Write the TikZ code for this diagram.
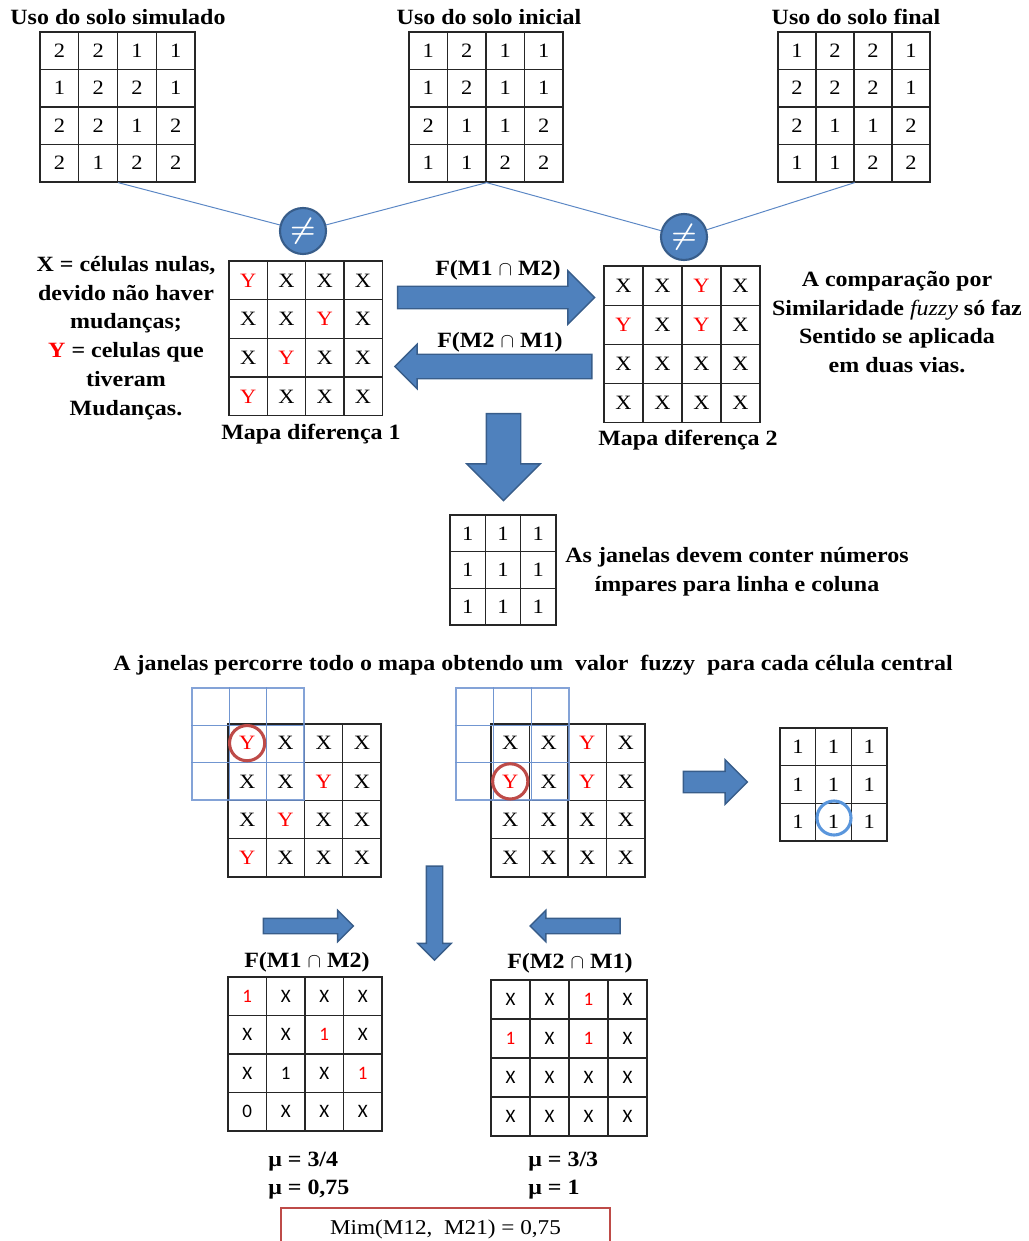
\documentclass[tikz,border=0pt]{standalone}
\usepackage{fontspec}
\setmainfont[FakeStretch=1.1]{Liberation Serif}
\newfontfamily\cellsans{Carlito}
\usetikzlibrary{shapes.arrows,positioning}
\definecolor{arrowblue}{HTML}{4F81BD}
\definecolor{arrowedge}{HTML}{385D8A}
\definecolor{linkblue}{HTML}{5B87C5}
\definecolor{winblue}{HTML}{6E93D0}
\definecolor{ringred}{HTML}{BE4B48}
\definecolor{ringblue}{HTML}{5A96DC}
\newcommand{\Yr}{\textcolor{red}{Y}}
\newcommand{\Ur}{\textcolor{red}{1}}

\begin{document}
\begin{tikzpicture}[x=0.025cm,y=-0.025cm,
  cell/.style={draw=black!85,line width=0.9pt,inner sep=0pt,minimum width=0.96cm,minimum height=0.96cm,font=\fontsize{14.5}{14.5}\selectfont},
  scell/.style={cell,font=\cellsans\fontsize{13.5}{13.5}\selectfont},
  wcell/.style={draw=winblue,draw opacity=0.85,line width=0.9pt,inner sep=0pt,minimum width=0.932cm,minimum height=0.932cm},
  lbl/.style={font=\fontsize{15.5}{20.5}\selectfont\bfseries,align=center,inner sep=0pt},
  neq/.style={circle,fill=arrowblue,draw=arrowedge,line width=1.5pt,minimum size=1.15cm,inner sep=0pt,text=white,font=\huge\boldmath},
  ring/.style={circle,draw=ringred,line width=2.2pt,minimum size=0.88cm,inner sep=0pt},
  link/.style={draw=linkblue,line width=0.7pt},
  bigarrow/.style 2 args={single arrow,fill=arrowblue,draw=arrowedge,line width=1pt,inner xsep=0pt,inner ysep=#1,single arrow head extend=#2},
  downarrow/.style 2 args={bigarrow={0pt}{#2},inner xsep=#1,shape border rotate=270}]
\useasboundingbox (0,0) rectangle (1029,1241);

% mapas de uso do solo
\node[lbl] (tsim) at (118,17) {Uso do solo simulado};
\foreach \row [count=\r] in {{2,2,1,1},{1,2,2,1},{2,2,1,2},{2,1,2,2}}
  \foreach \v [count=\c] in \row
    \node[cell,minimum width=0.969cm,minimum height=0.9375cm] (sim-\r-\c) at ({40+(\c-0.5)*38.75},{32+(\r-0.5)*37.5}) {\v};
\node[lbl] (tini) at (489,17) {Uso do solo inicial};
\foreach \row [count=\r] in {{1,2,1,1},{1,2,1,1},{2,1,1,2},{1,1,2,2}}
  \foreach \v [count=\c] in \row
    \node[cell,minimum width=0.9625cm,minimum height=0.9375cm] (ini-\r-\c) at ({409+(\c-0.5)*38.5},{32+(\r-0.5)*37.5}) {\v};
\node[lbl] (tfin) at (856,17) {Uso do solo final};
\foreach \row [count=\r] in {{1,2,2,1},{2,2,2,1},{2,1,1,2},{1,1,2,2}}
  \foreach \v [count=\c] in \row
    \node[cell,minimum width=0.95cm,minimum height=0.9375cm] (fin-\r-\c) at ({778+(\c-0.5)*38},{32+(\r-0.5)*37.5}) {\v};

\node[neq] (neq1) at (303,231) {$\neq$};
\node[neq] (neq2) at (684,237) {$\neq$};
\path[link] (sim-4-2.south east) -- (neq1)
            (ini-4-2.south east) -- (neq1)
            (ini-4-2.south east) -- (neq2)
            (fin-4-2.south east) -- (neq2);

% mapas diferenca
\foreach \row [count=\r] in {{\Yr,X,X,X},{X,X,\Yr,X},{X,\Yr,X,X},{\Yr,X,X,X}}
  \foreach \v [count=\c] in \row
    \node[cell,minimum width=0.9575cm,minimum height=0.9675cm] (dif1-\r-\c) at ({229+(\c-0.5)*38.3},{261+(\r-0.5)*38.7}) {\v};
\node[lbl] (tdif1) at (311,434) {Mapa diferença 1};
\foreach \row [count=\r] in {{X,X,\Yr,X},{\Yr,X,\Yr,X},{X,X,X,X},{X,X,X,X}}
  \foreach \v [count=\c] in \row
    \node[cell,minimum width=0.975cm,minimum height=0.98cm] (dif2-\r-\c) at ({604+(\c-0.5)*39},{266+(\r-0.5)*39.2}) {\v};
\node[lbl] (tdif2) at (688,440) {Mapa diferença 2};

\node[lbl] (legx) at (126,338) {X = células nulas,\\devido não haver\\mudanças;\\\textcolor{red}{Y} = celulas que\\tiveram\\Mudanças.};
\node[lbl] (legf) at (897,322) {A comparação por\\Similaridade \textmd{\textit{fuzzy}} só faz\\Sentido se aplicada\\em duas vias.};

\node[bigarrow={0.2625cm}{0.3875cm},minimum height=4.925cm] (a12) at (490.5,297.5) {};
\node[lbl] (f12) at (498,270) {F(M1 $\cap$ M2)};
\node[bigarrow={0.2875cm}{0.25cm},minimum height=4.925cm,shape border rotate=180] (a21) at (499.5,366.5) {};
\node[lbl] (f21) at (500,342) {F(M2 $\cap$ M1)};
\node[downarrow={0.4125cm}{0.4875cm},minimum height=2.175cm] (adown) at (503.5,448.5) {};

% janela
\foreach \r in {1,2,3}
  \foreach \c in {1,2,3}
    \node[cell,minimum width=0.8825cm,minimum height=0.9175cm] (jan-\r-\c) at ({450+(\c-0.5)*35.3},{515+(\r-0.5)*36.7}) {1};
\node[lbl] (tjan) at (737,572) {As janelas devem conter números\\ímpares para linha e coluna};

\node[lbl] (tperc) at (533,665) {A janelas percorre todo o mapa obtendo um\ \ valor\ \ fuzzy\ \ para cada célula central};

% janela percorrendo os mapas
\foreach \row [count=\r] in {{\Yr,X,X,X},{X,X,\Yr,X},{X,\Yr,X,X},{\Yr,X,X,X}}
  \foreach \v [count=\c] in \row
    \node[cell,minimum width=0.956cm,minimum height=0.956cm] (wa-\r-\c) at ({228+(\c-0.5)*38.25},{724+(\r-0.5)*38.25}) {\v};
\foreach \r in {1,2,3}
  \foreach \c in {1,2,3}
    \node[wcell] (wina-\r-\c) at ({192+(\c-0.5)*37.3},{688+(\r-0.5)*37.3}) {};
\node[ring] (ringa) at (wa-1-1) {};

\foreach \row [count=\r] in {{X,X,\Yr,X},{\Yr,X,\Yr,X},{X,X,X,X},{X,X,X,X}}
  \foreach \v [count=\c] in \row
    \node[cell,minimum width=0.9625cm,minimum height=0.956cm] (wb-\r-\c) at ({491+(\c-0.5)*38.5},{724+(\r-0.5)*38.25}) {\v};
\foreach \r in {1,2,3}
  \foreach \c in {1,2,3}
    \node[wcell,minimum width=0.9425cm] (winb-\r-\c) at ({456+(\c-0.5)*37.7},{688+(\r-0.5)*37.3}) {};
\node[ring] (ringb) at (wb-2-1) {};

\node[bigarrow={0.25cm}{0.2875cm},minimum height=1.6cm] (ares) at (710,782) {};
\foreach \r in {1,2,3}
  \foreach \c in {1,2,3}
    \node[cell,minimum width=0.8925cm,minimum height=0.9425cm] (res-\r-\c) at ({780+(\c-0.5)*35.7},{728+(\r-0.5)*37.7}) {1};
\node[ring,draw=ringblue,minimum size=0.85cm] (ringc) at (834,818) {};

% resultados
\node[downarrow={0.1875cm}{0.2125cm},minimum height=2.35cm] (adown2) at (434.5,909) {};
\node[bigarrow={0.175cm}{0.2cm},minimum height=2.25cm] (ar12) at (304.5,926) {};
\node[bigarrow={0.175cm}{0.2cm},minimum height=2.25cm,shape border rotate=180] (ar21) at (579,926) {};

\node[lbl] (tf12) at (307,962) {F(M1 $\cap$ M2)};
\foreach \row [count=\r] in {{\Ur,X,X,X},{X,X,\Ur,X},{X,1,X,\Ur},{0,X,X,X}}
  \foreach \v [count=\c] in \row
    \node[scell,minimum width=0.9625cm,minimum height=0.9625cm] (fa-\r-\c) at ({228+(\c-0.5)*38.5},{977+(\r-0.5)*38.5}) {\v};
\node[lbl] (tf21) at (570,963) {F(M2 $\cap$ M1)};
\foreach \row [count=\r] in {{X,X,\Ur,X},{\Ur,X,\Ur,X},{X,X,X,X},{X,X,X,X}}
  \foreach \v [count=\c] in \row
    \node[scell,minimum width=0.975cm,minimum height=0.975cm] (fb-\r-\c) at ({491+(\c-0.5)*39},{980+(\r-0.5)*39}) {\v};

\node[lbl,anchor=west] (mua) at (268,1162) {μ = 3/4};
\node[lbl,anchor=west] (mub) at (268,1190) {μ = 0,75};
\node[lbl,anchor=west] (muc) at (528,1162) {μ = 3/3};
\node[lbl,anchor=west] (mud) at (528,1190) {μ = 1};
\node[draw=ringred,line width=1.5pt,minimum width=8.225cm,minimum height=1.05cm,font=\fontsize{15}{15}\selectfont] (mim) at (445.5,1229) {Mim(M12,\ \ M21) = 0,75};
\end{tikzpicture}
\end{document}
